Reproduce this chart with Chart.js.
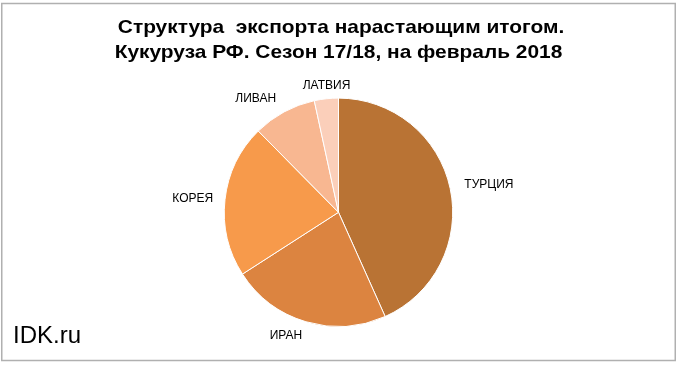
<!DOCTYPE html>
<html>
<head>
<meta charset="utf-8">
<script src="https://cdn.jsdelivr.net/npm/chart.js@4/dist/chart.umd.min.js"></script>
<style>
  html, body { margin: 0; padding: 0; background: #ffffff; }
  #wrap { position: relative; width: 680px; height: 367px; }
</style>
</head>
<body>
<div id="wrap"><canvas id="c" width="680" height="367"></canvas></div>
<script>
const categories = ['ТУРЦИЯ', 'ИРАН', 'КОРЕЯ', 'ЛИВАН', 'ЛАТВИЯ'];
const shares = [43.3, 22.6, 21.7, 9.0, 3.4];
const sliceColors = ['#B97334', '#DC8440', '#F79A4B', '#F8B791', '#FBCFBA'];
const titleLines = ['Структура  экспорта нарастающим итогом.', 'Кукуруза РФ. Сезон 17/18, на февраль 2018'];
const watermark = 'IDK.ru';

// label nudges (px) relative to geometric outside-end position
const labelNudge = [[3, 0], [-12, -3], [0, 1], [-13, 3], [4, 5]];

const framePlugin = {
  id: 'frame',
  beforeDraw(chart) {
    const ctx = chart.ctx;
    ctx.save();
    ctx.fillStyle = '#ffffff';
    ctx.fillRect(0, 0, chart.width, chart.height);
    ctx.strokeStyle = '#b0b0b0';
    ctx.lineWidth = 1.5;
    ctx.strokeRect(1.75, 3.5, 673.5, 357);
    ctx.restore();
  },
  afterDraw(chart) {
    const ctx = chart.ctx;
    ctx.save();
    ctx.fillStyle = '#000000';
    ctx.textBaseline = 'alphabetic';
    ctx.textAlign = 'left';
    ctx.font = '24px "Liberation Sans", Arial, sans-serif';
    ctx.fillText(watermark, 13, 343);
    // title, slightly widened like the original
    ctx.font = 'bold 19px "Liberation Sans", Arial, sans-serif';
    ctx.textAlign = 'center';
    const baselines = [33.3, 57.7];
    const centers = [341, 338.5];
    titleLines.forEach((t, i) => {
      ctx.save();
      ctx.translate(centers[i], baselines[i]);
      ctx.scale(1.1, 1);
      ctx.fillText(t, 0, 0);
      ctx.restore();
    });
    ctx.restore();
  }
};

const labelPlugin = {
  id: 'outLabels',
  afterDatasetsDraw(chart) {
    const ctx = chart.ctx;
    const meta = chart.getDatasetMeta(0);
    ctx.save();
    ctx.font = '12px "Liberation Sans", Arial, sans-serif';
    ctx.fillStyle = '#000000';
    ctx.textAlign = 'center';
    ctx.textBaseline = 'middle';
    meta.data.forEach((arc, i) => {
      const p = arc.getProps(['x', 'y', 'startAngle', 'endAngle', 'outerRadius'], true);
      const mid = (p.startAngle + p.endAngle) / 2;
      const dx = Math.cos(mid), dy = Math.sin(mid);
      const w = ctx.measureText(categories[i]).width;
      const h = 12;
      const r = p.outerRadius + 12;
      const x = p.x + dx * r + dx * w / 2 + labelNudge[i][0];
      const y = p.y + dy * r + dy * h / 2 + labelNudge[i][1];
      ctx.fillText(categories[i], x, y);
    });
    ctx.restore();
  }
};

new Chart(document.getElementById('c'), {
  type: 'pie',
  data: {
    labels: categories,
    datasets: [{
      data: shares,
      backgroundColor: sliceColors,
      borderColor: '#ffffff',
      borderWidth: 1,
      hoverOffset: 0,
      offset: 0
    }]
  },
  options: {
    responsive: false,
    animation: false,
    events: [],
    layout: { padding: { top: 97.6, bottom: 40, left: 100, right: 103 } },
    plugins: {
      legend: { display: false },
      tooltip: { enabled: false },
      title: { display: false }
    }
  },
  plugins: [framePlugin, labelPlugin]
});
</script>
</body>
</html>
